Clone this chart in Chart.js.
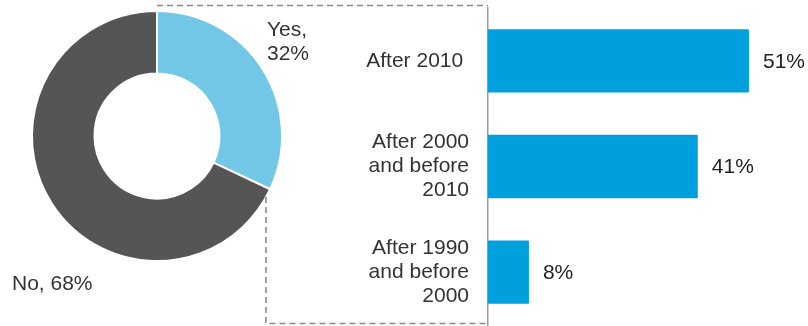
<!DOCTYPE html>
<html>
<head>
<meta charset="utf-8">
<script src="https://cdn.jsdelivr.net/npm/chart.js@4"></script>
<style>
  html, body { margin: 0; padding: 0; background: #fff; }
  #wrap { position: relative; width: 808px; height: 326px; }
  #wrap canvas { position: absolute; left: 0; top: 0; }
</style>
</head>
<body>
<div id="wrap">
  <canvas id="barChart" width="808" height="326"></canvas>
  <canvas id="pieChart" width="808" height="326"></canvas>
</div>
<script>
// =====================
// Data
// =====================
const pieLabels = ["Yes", "No"];
const pieValues = [32, 68];
const pieColors = ["#72c6e6", "#555555"];

const barLabels = [["After 2010 "], ["After 2000", "and before", "2010"], ["After 1990", "and before", "2000"]];
const barValues = [51, 41, 8];

const FONT = "'Liberation Sans', Arial, sans-serif";
const FONT_SIZE = 21;
Chart.defaults.font.family = FONT;
Chart.defaults.font.size = FONT_SIZE;
Chart.defaults.animation = false;

// =====================
// Doughnut labels + dashed callout box
// =====================
const pieLabelPlugin = {
  id: "pieLabels",
  afterDraw(chart) {
    const c = chart.ctx;
    const arc = chart.getDatasetMeta(0).data;
    c.save();
    c.font = FONT_SIZE + "px " + FONT;
    c.fillStyle = "#333";
    c.textBaseline = "middle";
    c.textAlign = "left";
    // Yes label sits to the upper right of its slice
    const yes = arc[0];
    c.fillText(pieLabels[0] + ",", yes.x + 110, 30);
    c.fillText(pieValues[0] + "%", yes.x + 110, 54);
    // No label below left
    c.fillText(pieLabels[1] + ", " + pieValues[1] + "%", 12, 284);

    // dashed box linking the Yes slice to the bar breakdown
    c.strokeStyle = "#8a8a8a";
    c.lineWidth = 1.6;
    c.setLineDash([6, 4]);
    c.beginPath();
    c.moveTo(yes.x, 5.5);
    c.lineTo(488, 5.5);
    c.moveTo(266, 197);
    c.lineTo(266, 323.5);
    c.lineTo(488, 323.5);
    c.stroke();
    c.restore();
  }
};

new Chart(document.getElementById("pieChart"), {
  type: "doughnut",
  data: {
    labels: pieLabels,
    datasets: [{
      data: pieValues,
      backgroundColor: pieColors,
      borderColor: "#fff",
      borderWidth: 2
    }]
  },
  options: {
    responsive: false,
    cutout: "50%",
    layout: { padding: { left: 31, top: 10, right: 525, bottom: 64 } },
    plugins: { legend: { display: false }, tooltip: { enabled: false } }
  },
  plugins: [pieLabelPlugin]
});

// =====================
// Horizontal bar breakdown
// =====================
const barValuePlugin = {
  id: "barValues",
  afterDatasetsDraw(chart) {
    const c = chart.ctx;
    c.save();
    c.font = FONT_SIZE + "px " + FONT;
    c.fillStyle = "#222";
    c.textAlign = "left";
    c.textBaseline = "middle";
    chart.getDatasetMeta(0).data.forEach((bar, i) => {
      c.fillText(barValues[i] + "%", bar.x + 14, bar.y + 1);
    });
    c.restore();
  }
};

new Chart(document.getElementById("barChart"), {
  type: "bar",
  data: {
    labels: barLabels,
    datasets: [{
      data: barValues,
      backgroundColor: "#00a0df",
      categoryPercentage: 1,
      barPercentage: 0.6,
      borderRadius: 1
    }]
  },
  options: {
    responsive: false,
    indexAxis: "y",
    layout: { padding: { left: 0, top: 8, right: 13, bottom: 1 } },
    scales: {
      x: { display: false, min: 0, max: 60 },
      y: {
        afterFit(scale) {
          scale.width = 488;
          // multi-line labels would otherwise push the plot area inward
          scale.paddingTop = 0;
          scale.paddingBottom = 0;
        },
        grid: { display: false, drawTicks: false },
        border: { display: true, color: "#999", width: 1.5 },
        ticks: { color: "#333", padding: 19, font: { size: FONT_SIZE, lineHeight: "24px" } }
      }
    },
    plugins: { legend: { display: false }, tooltip: { enabled: false } }
  },
  plugins: [barValuePlugin]
});
</script>
</body>
</html>
